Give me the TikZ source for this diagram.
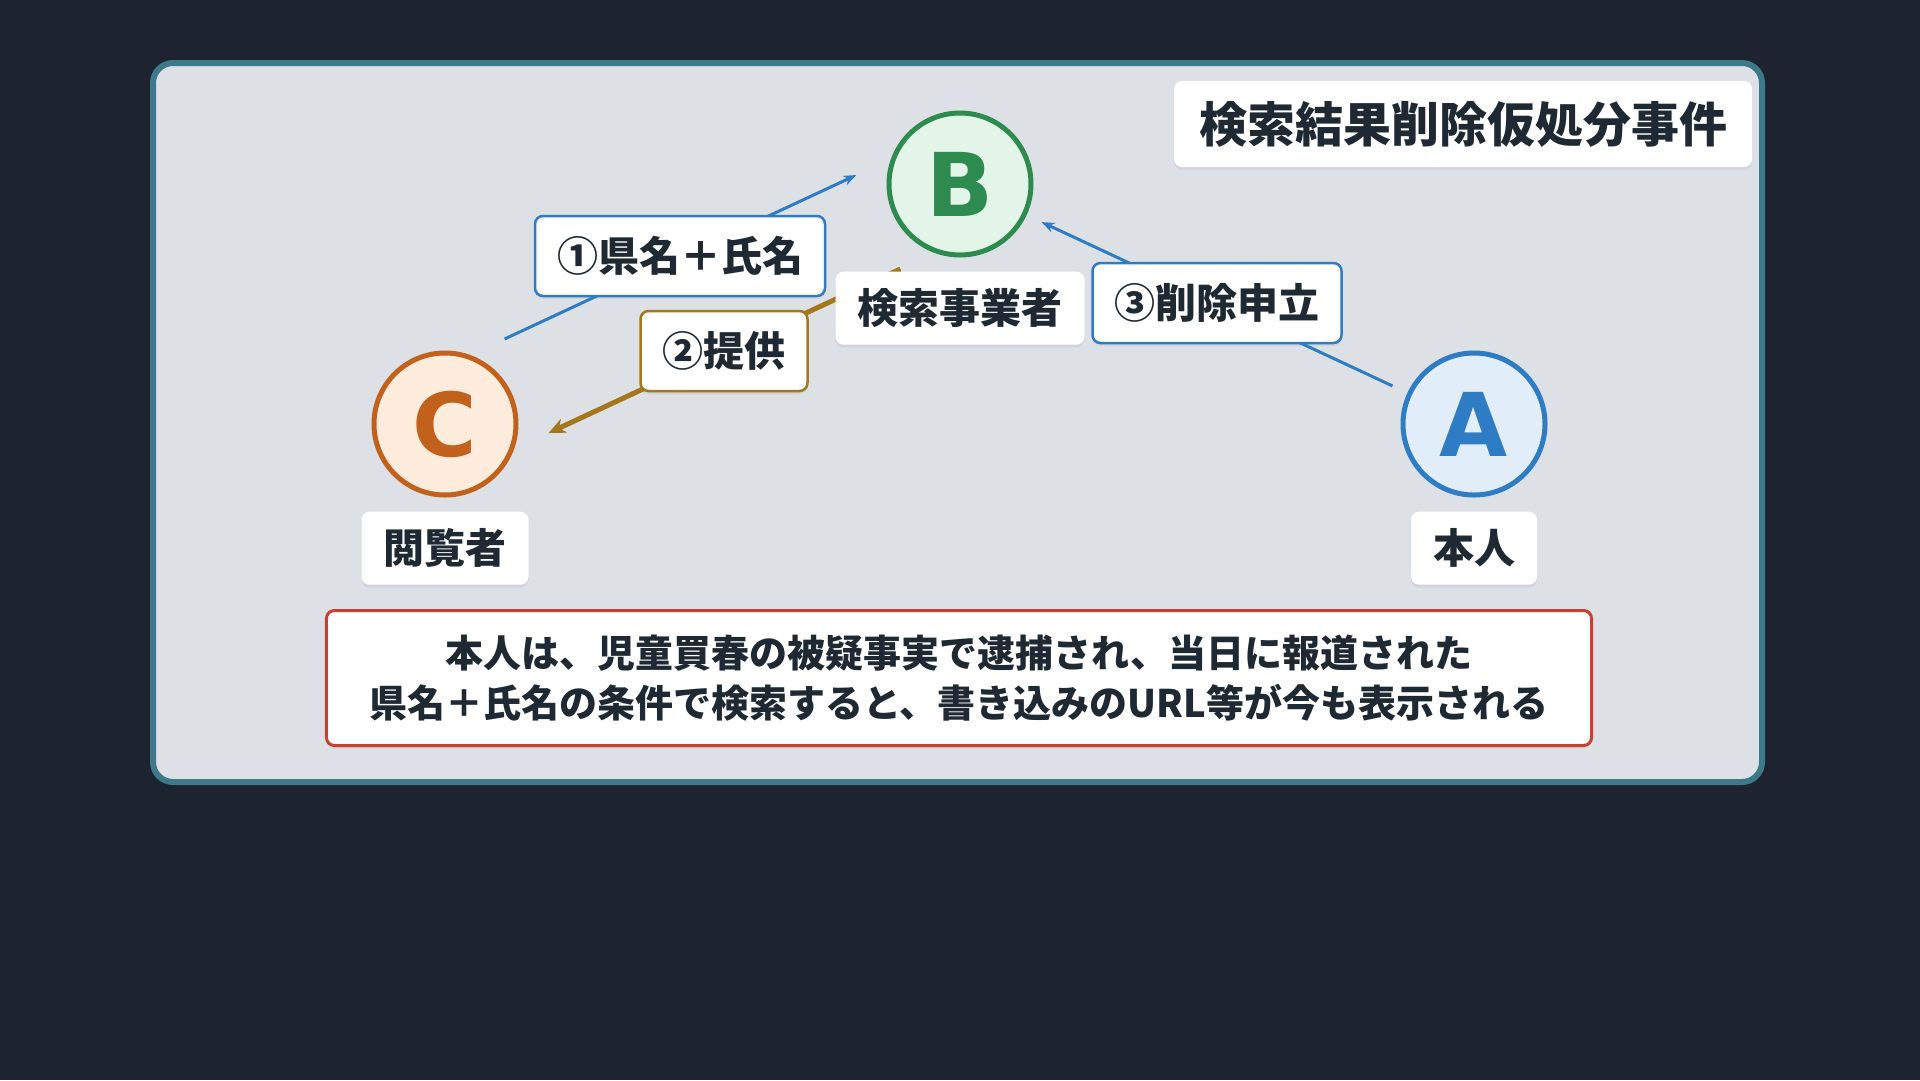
\documentclass[tikz,border=0pt]{standalone}
\usepackage{fontspec}
\setmainfont{Noto Sans CJK JP}
\newfontfamily\letterfont{DejaVu Sans}
\usepackage{tikz}
\usetikzlibrary{arrows.meta,shapes,positioning,shadows,calc}
\usepackage{xcolor}
\definecolor{kbg}{RGB}{29,36,48}
\definecolor{kpanel}{RGB}{221,224,229}
\definecolor{kframe}{RGB}{60,122,137}
\definecolor{ktext}{RGB}{31,41,51}
\definecolor{kgreen}{RGB}{46,139,79}
\definecolor{kgreenfill}{RGB}{226,245,232}
\definecolor{korange}{RGB}{194,97,28}
\definecolor{korangefill}{RGB}{253,235,220}
\definecolor{kblue}{RGB}{45,124,196}
\definecolor{kbluefill}{RGB}{225,237,249}
\definecolor{kbrown}{RGB}{163,120,28}
\definecolor{kred}{RGB}{200,64,47}
\tikzstyle{party} = [circle, minimum size=142pt, line width=5pt, inner sep=0pt, font=\fontsize{88}{88}\selectfont\letterfont\bfseries]
\tikzstyle{namebox} = [rectangle, rounded corners=8pt, fill=white, text=ktext, inner xsep=22pt, inner ysep=0pt, minimum height=73pt, text height=35pt, text depth=5pt, font=\fontsize{41}{41}\selectfont\bfseries, drop shadow={opacity=0.12, shadow xshift=0pt, shadow yshift=-3pt}]
\tikzstyle{stepbox} = [namebox, minimum height=80pt, line width=2.5pt]
\tikzstyle{arrowblue} = [line width=3pt, kblue, -{Stealth[length=13pt,width=10pt]}]
\tikzstyle{arrowbrown} = [line width=5pt, kbrown, -{Stealth[length=17pt,width=15pt]}]

\begin{document}
\begin{tikzpicture}[x=1pt, y=-1pt]
\useasboundingbox[fill=kbg] (0,0) rectangle (1920,1080);
% panel
\draw[line width=6pt, kframe, fill=kpanel, rounded corners=20pt] (153,63) rectangle (1762,782);
\node (title) [namebox, minimum height=86pt, inner xsep=25pt, text height=42pt, text depth=6pt, font=\fontsize{48}{48}\selectfont\bfseries] at (1463,124) {検索結果削除仮処分事件};

% parties
\node (B) [party, draw=kgreen, fill=kgreenfill, text=kgreen] at (960,184) {B};
\node (C) [party, draw=korange, fill=korangefill, text=korange] at (445,424) {C};
\node (A) [party, draw=kblue, fill=kbluefill, text=kblue] at (1474,424) {A};
\node (viewer) [namebox, below=14pt of C] {閲覧者};
\node (person) [namebox, below=14pt of A] {本人};

% flows
\draw[arrowblue, transform canvas={xshift=-22pt, yshift=47pt}] ($(C)!90pt!(B)$) -- ($(B)!90pt!(C)$);
\draw[arrowbrown, transform canvas={xshift=22pt, yshift=-47pt}] ($(B)!90pt!(C)$) -- ($(C)!90pt!(B)$);
\draw[arrowblue] ($(A)!90pt!(B)$) -- ($(B)!90pt!(A)$);
\node (engine) [namebox, below=14pt of B] {検索事業者};

\node (query) [stepbox, draw=kblue] at (680,256) {①県名＋氏名};
\node (result) [stepbox, draw=kbrown] at (724,351) {②提供};
\node (request) [stepbox, draw=kblue] at (1217,303) {③削除申立};

% facts
\node (facts) [namebox, draw=kred, line width=3pt, align=center, inner xsep=43pt, minimum height=135pt, text height=, text depth=, font=\fontsize{38}{50}\selectfont\bfseries] at (959,678) {本人は、児童買春の被疑事実で逮捕され、当日に報道された\\県名＋氏名の条件で検索すると、書き込みのURL等が今も表示される};
\end{tikzpicture}
\end{document}
